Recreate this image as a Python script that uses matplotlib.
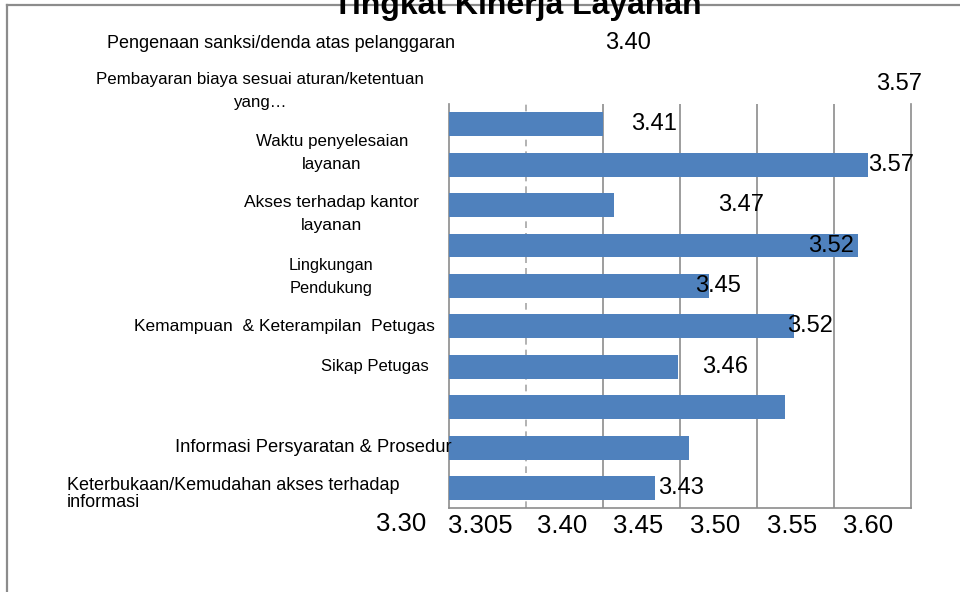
import matplotlib
matplotlib.use("Agg")
import matplotlib.pyplot as plt
from matplotlib.lines import Line2D
from matplotlib.transforms import blended_transform_factory

plt.rcParams['font.family'] = ['Liberation Sans', 'DejaVu Sans']

# ---- data ----
title = "Tingkat Kinerja Layanan"
categories = [
    "Pengenaan sanksi/denda atas pelanggaran",
    "Pembayaran biaya sesuai aturan/ketentuan\nyang…",
    "Waktu penyelesaian\nlayanan",
    "Akses terhadap kantor\nlayanan",
    "Lingkungan\nPendukung",
    "Kemampuan  & Keterampilan  Petugas",
    "Sikap Petugas",
    "",
    "Informasi Persyaratan & Prosedur",
    "Keterbukaan/Kemudahan akses terhadap\ninformasi",
]
values = [3.400, 3.572, 3.407, 3.566, 3.469, 3.524, 3.449, 3.518, 3.456, 3.434]
tick_labels = ["3.30", "3.305", "3.40", "3.45", "3.50", "3.55", "3.60"]

# ---- layout / style ----
W, H = 960, 592
fig = plt.figure(figsize=(W / 100, H / 100), dpi=100)
ax = fig.add_axes([449 / W, 1 - 508.3 / H, (910.7 - 449) / W, (508.3 - 104) / H])

bar_color = "#4F81BD"
grid_color = "#8C8C8C"

ypos = list(range(len(values)))
ax.barh(ypos, [v - 3.30 for v in values], left=3.30, height=0.59,
        color=bar_color, zorder=3)

for gx, ls in [(3.35, (0, (4, 3))), (3.40, '-'), (3.45, '-'), (3.50, '-'), (3.55, '-')]:
    ax.axvline(gx, color=grid_color if ls == '-' else "#A6A6A6", lw=1.2, ls=ls, zorder=1)

ax.spines['top'].set_visible(False)
for side in ['left', 'bottom', 'right']:
    ax.spines[side].set_color(grid_color)
    ax.spines[side].set_linewidth(1.2)

# tick labels sit between gridlines as in the reference
tick_pos = [3.269, 3.3201, 3.3732, 3.4228, 3.473, 3.5227, 3.572]
ax.set_xticks(tick_pos[1:])
ax.set_xticklabels(tick_labels[1:], fontsize=18.5)
ax.tick_params(axis='x', length=0, pad=4)
ax.set_yticks([])
ax.set_xlim(3.30, 3.60)
ax.set_ylim(len(values) - 0.5, -0.5)

# the first tick label lies outside the axis range
tr = blended_transform_factory(ax.transData, ax.transAxes)
ax.text(tick_pos[0], -4 / (508.3 - 104), tick_labels[0], transform=tr,
        fontsize=18.5, ha='center', va='top', clip_on=False)

# value labels (shifted as in reference)
label_slot = [-2, -1, 0, 1, 2, 3, 4, 5, 6, 9]
label_off_px = [2, 8, 17, 10, 9, 14, 17, 3, 13, 3]
px_per_unit = (910.7 - 449) / 0.30
for v, s, off in zip(values, label_slot, label_off_px):
    ax.text(v + off / px_per_unit, s, f"{v:.2f}", fontsize=17,
            ha='left', va='center', clip_on=False, zorder=5)

# category labels
cat_layout = [
    (281, 43, 'center', 1.2, 13),
    (260, 91, 'center', 1.65, 12.2),
    (332, 153, 'center', 1.65, 12.2),
    (331, 214, 'center', 1.65, 12.6),
    (331, 277, 'center', 1.7, 11.8),
    (435, 326, 'right', 1.2, 12.5),
    (429, 366, 'right', 1.2, 12),
    (429, 406, 'right', 1.2, 12),
    (452, 447, 'right', 1.2, 13.2),
    (67, 494, 'left', 1.05, 13),
]
for txt, (x, y, ha, lsp, fs) in zip(categories, cat_layout):
    if not txt:
        continue
    fig.text(x / W, 1 - y / H, txt, fontsize=fs, ha=ha, va='center',
             multialignment='center' if ha == 'center' else 'left',
             linespacing=lsp)

# frame
fig.add_artist(Line2D([7 / W, 1], [1 - 5 / H, 1 - 5 / H], color=grid_color, lw=1.6,
                      transform=fig.transFigure))
fig.add_artist(Line2D([7 / W, 7 / W], [0, 1 - 5 / H], color=grid_color, lw=1.6,
                      transform=fig.transFigure))

# title (cut off at the top as in reference)
fig.text(517 / W, 1 - 14.3 / H, title, fontsize=23, fontweight='bold',
         ha='center', va='baseline')

fig.savefig("out.png", dpi=100)
